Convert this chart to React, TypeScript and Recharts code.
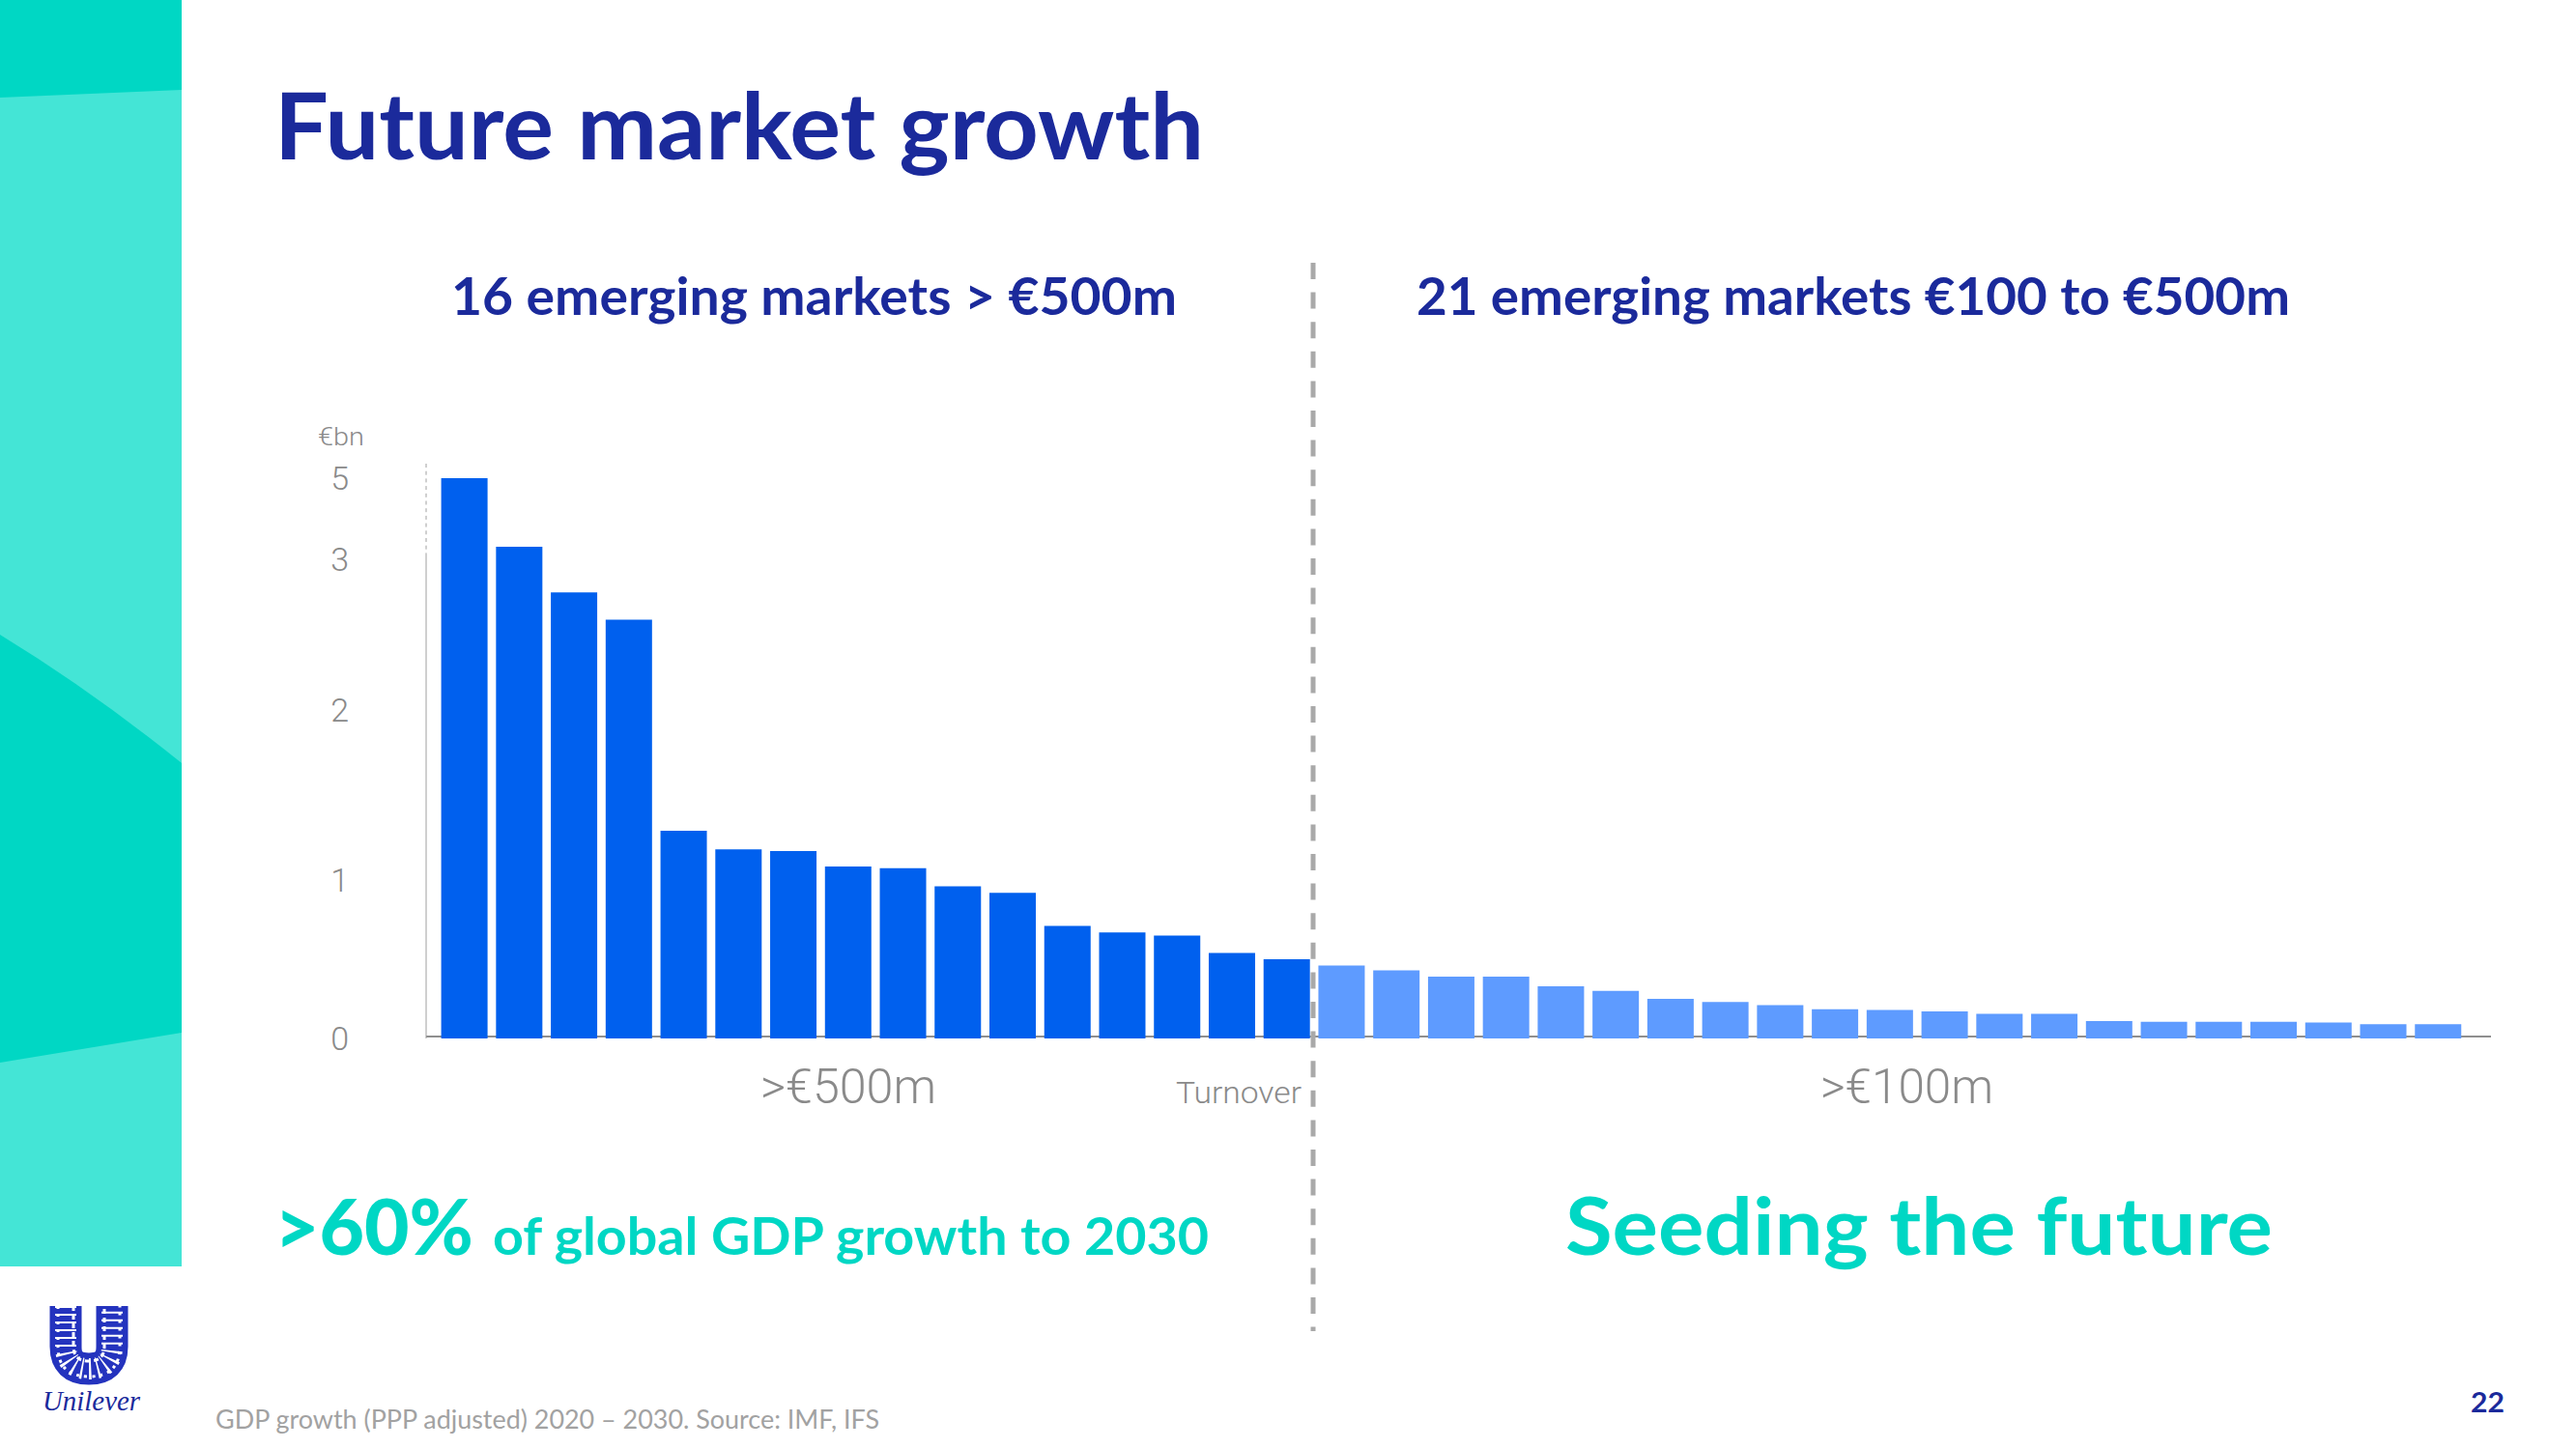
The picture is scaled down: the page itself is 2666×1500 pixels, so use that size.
import { BarChart, Bar, Cell, XAxis, YAxis } from 'recharts';

const largeMarkets = [5, 3.31, 2.78, 2.6, 1.29, 1.18, 1.17, 1.08, 1.07, 0.96, 0.92, 0.71, 0.67, 0.65, 0.54, 0.5];
const smallMarkets = [0.46, 0.43, 0.39, 0.39, 0.33, 0.3, 0.25, 0.23, 0.21, 0.185, 0.18, 0.17, 0.155, 0.155, 0.11, 0.105, 0.105, 0.105, 0.1, 0.09, 0.09];
const yTicks = [0, 1, 2, 3, 5];

// the printed axis is not linear, so ticks are spaced as on the slide
const axisValues = [0, 1, 2, 3, 5, 5.4];
const axisShares = [0, 0.2756, 0.5714, 0.8336, 0.9748, 1];

const DARK_BLUE = '#0060EE';
const LIGHT_BLUE = '#5E9BFF';
const NAVY = '#1B2A9B';
const TEAL = '#00D7C4';
const LIGHT_TEAL = '#44E5D6';
const GREY = '#8A8A8A';

const rows = [...largeMarkets, ...smallMarkets].map((value, i) => ({ market: `m${i + 1}`, value }));

function brokenScale(domain = [0, 5.4], range = [1, 0]) {
  const scale: any = (v: number) => {
    let i = 0;
    while (i < axisValues.length - 2 && v > axisValues[i + 1]) i++;
    const t = (v - axisValues[i]) / (axisValues[i + 1] - axisValues[i]);
    const share = axisShares[i] + t * (axisShares[i + 1] - axisShares[i]);
    return range[0] + share * (range[1] - range[0]);
  };
  scale.domain = (d?: number[]) => (d ? brokenScale(d, range) : domain);
  scale.range = (r?: number[]) => (r ? brokenScale(domain, r) : range);
  scale.copy = () => brokenScale(domain, range);
  scale.ticks = () => yTicks;
  scale.clamp = () => scale;
  return scale;
}

function SlideText({ x, y, width, size, color, weight = 400, family = 'Lato', children }: any) {
  return (
    <text x={x} y={y} fontSize={size} fill={color} fontWeight={weight} fontFamily={family} textLength={width} lengthAdjust="spacingAndGlyphs">
      {children}
    </text>
  );
}

function Backdrop() {
  return (
    <svg width={2666} height={1500} style={{ position: 'absolute', left: 0, top: 0 }}>
      <rect x={0} y={0} width={188} height={1311} fill={LIGHT_TEAL} />
      <path d="M0 0H188V93L0 101Z" fill={TEAL} />
      <path d="M0 657Q95 715 188 790V1069L0 1100Z" fill={TEAL} />
      {/* baseline sits behind the bars */}
      <line x1={441} x2={2578} y1={1073} y2={1073} stroke="#8F8F8F" strokeWidth={2} />
    </svg>
  );
}

function Overlay() {
  return (
    <svg width={2666} height={1500} style={{ position: 'absolute', left: 0, top: 0 }}>
      <line x1={1359} x2={1359} y1={272} y2={1378} stroke="#A9A9A9" strokeWidth={5} strokeDasharray="17 13.6" />

      <SlideText x={284} y={165} width={962} size={96} color={NAVY} weight={700}>Future market growth</SlideText>
      <SlideText x={467} y={326} width={751} size={54} color={NAVY} weight={700}>16 emerging markets &gt; €500m</SlideText>
      <SlideText x={1466} y={326} width={904} size={54} color={NAVY} weight={700}>21 emerging markets €100 to €500m</SlideText>

      <SlideText x={329} y={461} width={48} size={26} color={GREY} weight={300} family="Roboto">€bn</SlideText>
      <SlideText x={787} y={1142} width={182} size={50} color={GREY} weight={300} family="Roboto">&gt;€500m</SlideText>
      <SlideText x={1217} y={1142} width={130} size={32} color={GREY} weight={300} family="Roboto">Turnover</SlideText>
      <SlideText x={1884} y={1142} width={179} size={50} color={GREY} weight={300} family="Roboto">&gt;€100m</SlideText>

      <SlideText x={284} y={1299} width={206} size={80} color={TEAL} weight={900}>&gt;60%</SlideText>
      <SlideText x={510} y={1299} width={741} size={54} color={TEAL} weight={700}>of global GDP growth to 2030</SlideText>
      <SlideText x={1620} y={1299} width={732} size={82} color={TEAL} weight={700}>Seeding the future</SlideText>

      <SlideText x={223} y={1479} width={687} size={27} color="#A2A2A2">GDP growth (PPP adjusted) 2020 – 2030. Source: IMF, IFS</SlideText>
      <SlideText x={2557} y={1462} width={35} size={28} color={NAVY} weight={700}>22</SlideText>

      <path d="M68 1352V1394Q68 1417 92 1417Q116 1417 116 1394V1352" fill="none" stroke="#2433BE" strokeWidth={33} />
      <path d="M68 1352V1394Q68 1417 92 1417Q116 1417 116 1394V1352" fill="none" stroke="#FFFFFF" strokeWidth={22} strokeDasharray="2 6" />
      <path d="M60 1352V1394Q60 1425 92 1425Q124 1425 124 1394V1352" fill="none" stroke="#FFFFFF" strokeWidth={3} strokeDasharray="3 5" />
      <path d="M76 1352V1394Q76 1409 92 1409Q108 1409 108 1394V1352" fill="none" stroke="#FFFFFF" strokeWidth={3} strokeDasharray="5 4" />
      <SlideText x={44} y={1460} width={101} size={30} color={NAVY} family="Liberation Serif">
        <tspan fontStyle="italic">Unilever</tspan>
      </SlideText>
    </svg>
  );
}

export default function App() {
  const dashes = Array(12).fill('4 3.7').join(' ');
  return (
    <div style={{ position: 'absolute', left: 0, top: 0, width: 2666, height: 1500, background: '#fff', overflow: 'hidden' }}>
      <Backdrop />
      <div style={{ position: 'absolute', left: 0, top: 0 }}>
        <BarChart width={2666} height={1500} data={rows} margin={{ top: 480, right: 88, bottom: 425, left: 381 }} barSize={48}>
          <XAxis dataKey="market" hide padding={{ left: 11.6, right: 26 }} />
          <YAxis
            width={60}
            domain={[0, 5.4]}
            ticks={yTicks}
            scale={brokenScale()}
            interval={0}
            tickLine={false}
            tickMargin={74}
            axisLine={{ stroke: '#A0A0A0', strokeWidth: 1, strokeDasharray: `${dashes} 600 0` }}
            tick={{ fontSize: 34, fill: GREY, fontFamily: 'Roboto', fontWeight: 300 }}
          />
          <Bar dataKey="value" isAnimationActive={false}>
            {rows.map((row, i) => (
              <Cell key={row.market} fill={i < largeMarkets.length ? DARK_BLUE : LIGHT_BLUE} />
            ))}
          </Bar>
        </BarChart>
      </div>
      <Overlay />
    </div>
  );
}
